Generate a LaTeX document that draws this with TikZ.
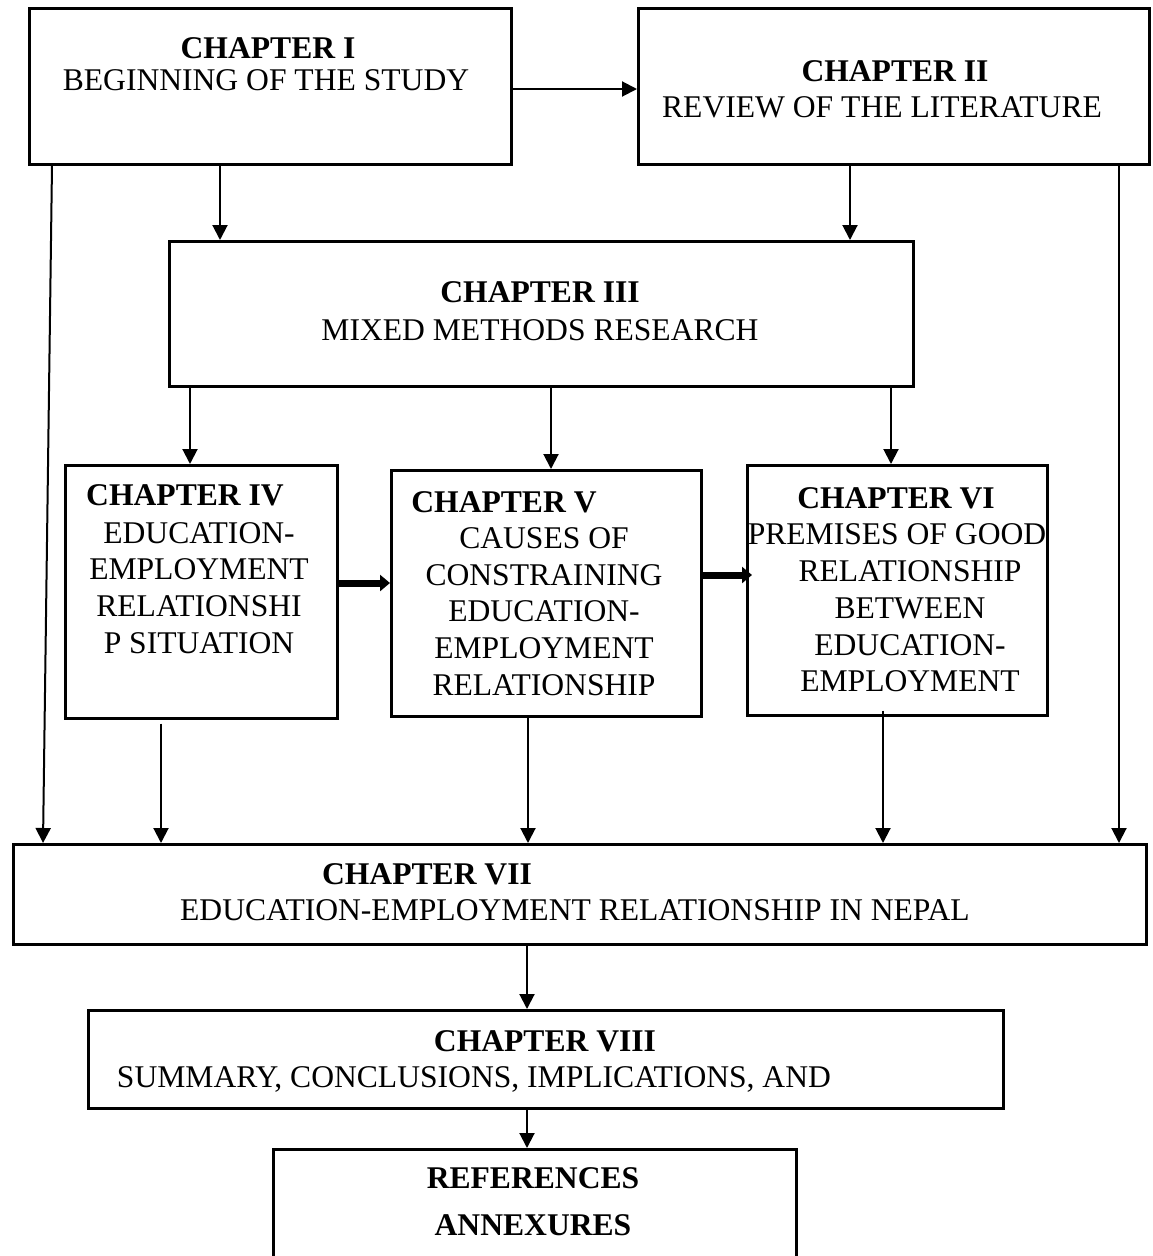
\documentclass[tikz,border=0pt]{standalone}
\usepackage{fontspec}
\setmainfont{Liberation Serif}
\usetikzlibrary{arrows.meta,calc}
\begin{document}
\begin{tikzpicture}[x=1pt,y=-1pt,
  box/.style={draw, line width=2.5pt, inner sep=0pt, anchor=north west},
  ttl/.style={inner sep=0pt, align=center, font=\fontsize{31.6}{36.7}\selectfont\bfseries},
  txt/.style={inner sep=0pt, align=center, font=\fontsize{31.6}{36.7}\selectfont},
  arr/.style={line width=2pt, -{Triangle[width=15pt,length=15pt]}},
  fatarr/.style={line width=7pt, -{Triangle[width=16pt,length=10pt]}}
]
\useasboundingbox (0,0) rectangle (1152,1256);

% chapter boxes
\node[box, minimum width=482pt,  minimum height=156pt] (c1) at (28,7) {};
\node[box, minimum width=511pt,  minimum height=156pt] (c2) at (637,7) {};
\node[box, minimum width=744pt,  minimum height=145pt] (c3) at (168,240) {};
\node[box, minimum width=272pt,  minimum height=253pt] (c4) at (64,464) {};
\node[box, minimum width=310pt,  minimum height=246pt] (c5) at (390,469) {};
\node[box, minimum width=300pt,  minimum height=250pt] (c6) at (746,464) {};
\node[box, minimum width=1133pt, minimum height=100pt] (c7) at (12,843) {};
\node[box, minimum width=915pt,  minimum height=98pt]  (c8) at (87,1009) {};
\node[box, minimum width=523pt,  minimum height=130pt] (rf) at (272,1148) {};

% box texts
\node[ttl] (t1) at (268,48) {CHAPTER I};
\node[txt] (b1) at (266,80) {BEGINNING OF THE STUDY};
\node[ttl] (t2) at (895,71) {CHAPTER II};
\node[txt] (b2) at (882,107) {REVIEW OF THE LITERATURE};
\node[ttl] (t3) at (540,292) {CHAPTER III};
\node[txt] (b3) at (540,330) {MIXED METHODS RESEARCH};
\node[ttl] (t4) at (185,495) {CHAPTER IV};
\node[txt] (b4) at (199,588) {EDUCATION-\\EMPLOYMENT\\RELATIONSHI\\P SITUATION};
\node[ttl] (t5) at (504,502) {CHAPTER V};
\node[txt] (b5) at (544,611.5) {CAUSES OF\\CONSTRAINING\\EDUCATION-\\EMPLOYMENT\\RELATIONSHIP};
\node[ttl] (t6) at (896,498) {CHAPTER VI};
\node[txt] (b6) at (910,608) {PREMISES OF GOOD\hspace*{26pt}\\RELATIONSHIP\\BETWEEN\\EDUCATION-\\EMPLOYMENT};
\node[ttl] (t7) at (427,874) {CHAPTER VII};
\node[txt] (b7) at (575,910) {EDUCATION-EMPLOYMENT RELATIONSHIP IN NEPAL};
\node[ttl] (t8) at (545,1041) {CHAPTER VIII};
\node[txt] (b8) at (474,1079) {SUMMARY, CONCLUSIONS, IMPLICATIONS, AND};
\node[ttl] (t9) at (533,1178) {REFERENCES};
\node[ttl] (t10) at (533,1225) {ANNEXURES};

% connector guide positions
\coordinate (xA) at (220,0);
\coordinate (xB) at (850,0);
\coordinate (xC) at (190,0);
\coordinate (xD) at (551,0);
\coordinate (xE) at (891,0);
\coordinate (xF) at (161,0);
\coordinate (xG) at (528,0);
\coordinate (xH) at (883,0);
\coordinate (xR) at (1119,0);
\coordinate (xM) at (527,0);
\coordinate (yA) at (0,89);
\coordinate (yB) at (0,583);
\coordinate (yC) at (0,575);

% connectors
\draw[arr] (c1.east |- yA) -- (c2.west |- yA);
\draw[arr] (c1.south -| xA) -- (c3.north -| xA);
\draw[arr] (c2.south -| xB) -- (c3.north -| xB);
\draw[arr] ($(c1.south west)+(24,0)$) -- ($(c7.north west)+(31,0)$);
\draw[arr] (c2.south -| xR) -- (c7.north -| xR);
\draw[arr] (c3.south -| xC) -- (c4.north -| xC);
\draw[arr] (c3.south -| xD) -- (c5.north -| xD);
\draw[arr] (c3.south -| xE) -- (c6.north -| xE);
\draw[fatarr] (c4.east |- yB) -- (c5.west |- yB);
\draw[fatarr] (c5.east |- yC) -- ($(c6.west |- yC)+(6,0)$);
\draw[arr] ($(c4.south -| xF)+(0,4)$) -- (c7.north -| xF);
\draw[arr] (c5.south -| xG) -- (c7.north -| xG);
\draw[arr] ($(c6.south -| xH)+(0,-6)$) -- (c7.north -| xH);
\draw[arr] (c7.south -| xM) -- (c8.north -| xM);
\draw[arr] (c8.south -| xM) -- (rf.north -| xM);
\end{tikzpicture}
\end{document}
